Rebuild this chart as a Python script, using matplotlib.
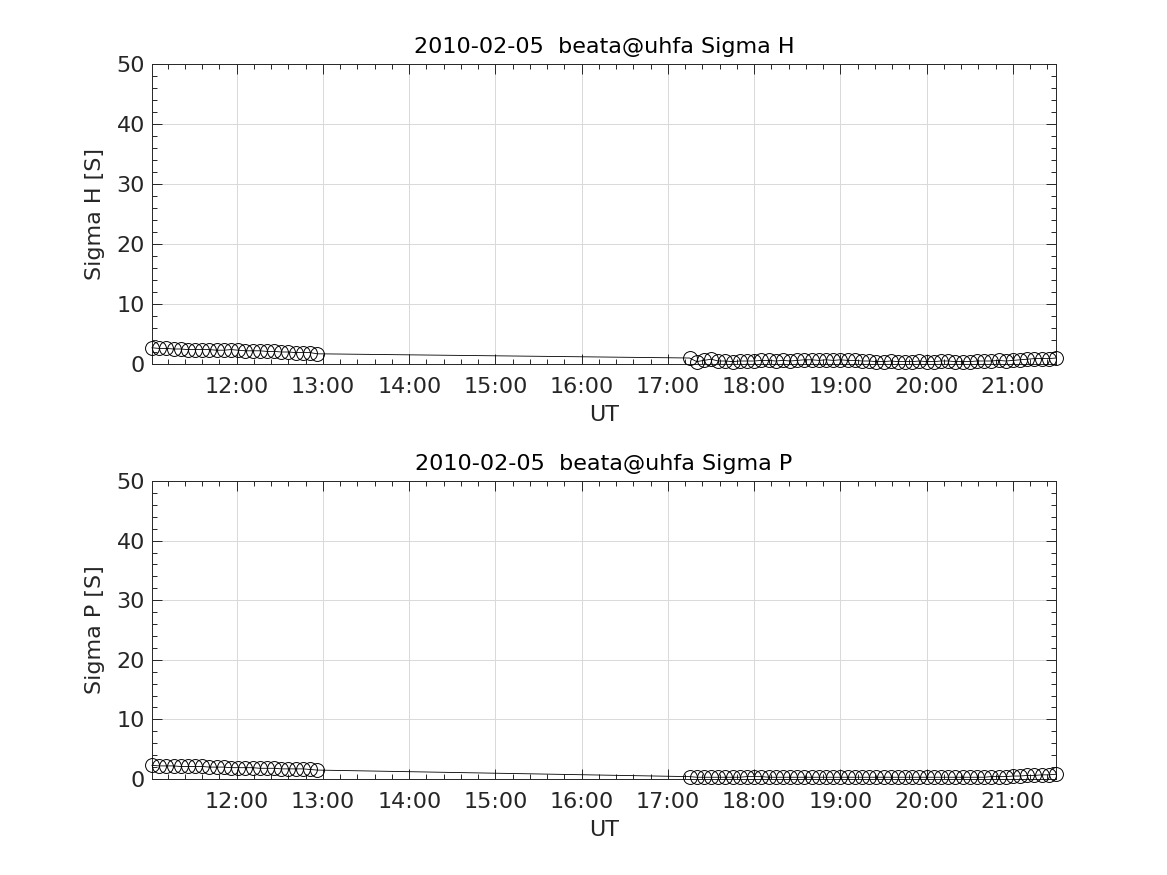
import numpy as np
import pandas as pd
import matplotlib
matplotlib.use("Agg")
import matplotlib.pyplot as plt
import matplotlib.dates as mdates

day = "2010-02-05"

times_a = ["11:01", "11:06", "11:11", "11:16", "11:21", "11:26", "11:31", "11:36",
           "11:41", "11:46", "11:51", "11:56", "12:01", "12:06", "12:11", "12:16",
           "12:21", "12:26", "12:31", "12:36", "12:41", "12:46", "12:51", "12:56"]
times_b = ["17:15", "17:20", "17:25", "17:30", "17:35", "17:40", "17:45", "17:50",
           "17:55", "18:00", "18:05", "18:10", "18:15", "18:20", "18:25", "18:30",
           "18:35", "18:40", "18:45", "18:50", "18:55", "19:00", "19:05", "19:10",
           "19:15", "19:20", "19:25", "19:30", "19:35", "19:40", "19:45", "19:50",
           "19:55", "20:00", "20:05", "20:10", "20:15", "20:20", "20:25", "20:30",
           "20:35", "20:40", "20:45", "20:50", "20:55", "21:00", "21:05", "21:10",
           "21:15", "21:20", "21:25", "21:30"]

sigma_h_a = [2.7, 2.6, 2.6, 2.5, 2.5, 2.4, 2.4, 2.4, 2.4, 2.3, 2.3, 2.4,
             2.3, 2.2, 2.2, 2.2, 2.1, 2.1, 2.0, 2.0, 1.9, 1.9, 1.9, 1.7]
sigma_h_b = [1.0, 0.4, 0.6, 0.8, 0.5, 0.5, 0.4, 0.5, 0.5, 0.5, 0.6, 0.6, 0.5,
             0.6, 0.5, 0.6, 0.7, 0.7, 0.6, 0.7, 0.6, 0.7, 0.6, 0.6, 0.5, 0.5,
             0.4, 0.4, 0.5, 0.4, 0.4, 0.4, 0.5, 0.4, 0.4, 0.5, 0.5, 0.4, 0.4,
             0.4, 0.5, 0.5, 0.5, 0.6, 0.5, 0.6, 0.7, 0.8, 0.9, 0.9, 0.9, 1.0]

sigma_p_a = [2.3, 2.2, 2.2, 2.2, 2.1, 2.1, 2.1, 2.1, 2.0, 2.0, 2.0, 1.9,
             1.9, 1.9, 1.9, 1.8, 1.8, 1.8, 1.7, 1.7, 1.7, 1.7, 1.6, 1.5]
sigma_p_b = [0.4, 0.3, 0.3, 0.3, 0.3, 0.3, 0.3, 0.3, 0.4, 0.4, 0.4, 0.3, 0.3,
             0.3, 0.3, 0.3, 0.3, 0.3, 0.3, 0.3, 0.3, 0.3, 0.3, 0.3, 0.3, 0.3,
             0.3, 0.3, 0.3, 0.3, 0.3, 0.3, 0.3, 0.3, 0.3, 0.3, 0.3, 0.3, 0.3,
             0.3, 0.3, 0.3, 0.4, 0.4, 0.4, 0.5, 0.5, 0.6, 0.6, 0.7, 0.7, 0.8]

panels = [
    ("2010-02-05  beata@uhfa Sigma H", "Sigma H [S]", sigma_h_a + sigma_h_b),
    ("2010-02-05  beata@uhfa Sigma P", "Sigma P [S]", sigma_p_a + sigma_p_b),
]

t = pd.to_datetime([f"{day} {s}" for s in times_a + times_b])

txt = (0.15, 0.15, 0.15)
plt.rcParams["font.family"] = "DejaVu Sans"
plt.rcParams["font.size"] = 16

fig = plt.figure(figsize=(11.67, 8.75), dpi=100)
rects = [[0.1302, 0.584, 0.7747, 0.3429], [0.1302, 0.1097, 0.7747, 0.3406]]

for rect, (title, ylabel, vals) in zip(rects, panels):
    ax = fig.add_axes(rect)
    ax.plot(t, vals, color="black", lw=0.6, marker="o", ms=10,
            mfc="none", mec="black", mew=0.7, clip_on=False, zorder=3)
    ax.set_xlim(t[0], t[-1])
    ax.set_ylim(0, 50)
    ax.set_yticks([0, 10, 20, 30, 40, 50])
    ax.yaxis.set_minor_locator(plt.MultipleLocator(2))
    ax.xaxis.set_major_locator(mdates.HourLocator())
    ax.xaxis.set_minor_locator(mdates.MinuteLocator(byminute=[12, 24, 36, 48]))
    ax.xaxis.set_major_formatter(mdates.DateFormatter("%H:%M"))
    ax.grid(True, which="major", color=(0.85, 0.85, 0.85), lw=0.7)
    ax.set_axisbelow(True)
    ax.tick_params(which="both", direction="in", top=True, right=True,
                   colors=txt, labelcolor=txt, labelsize=16, width=0.7)
    ax.tick_params(axis="x", which="major", pad=9)
    ax.tick_params(axis="y", which="major", pad=5)
    ax.tick_params(which="major", length=7)
    ax.tick_params(which="minor", length=3.5)
    for sp in ax.spines.values():
        sp.set_color(txt)
        sp.set_linewidth(0.7)
    ax.set_title(title, fontsize=16, color="black", pad=8)
    ax.set_ylabel(ylabel, color=txt, fontsize=16, labelpad=8)
    ax.set_xlabel("UT", color=txt, fontsize=16, labelpad=6)

fig.savefig("out.png", dpi=100)
